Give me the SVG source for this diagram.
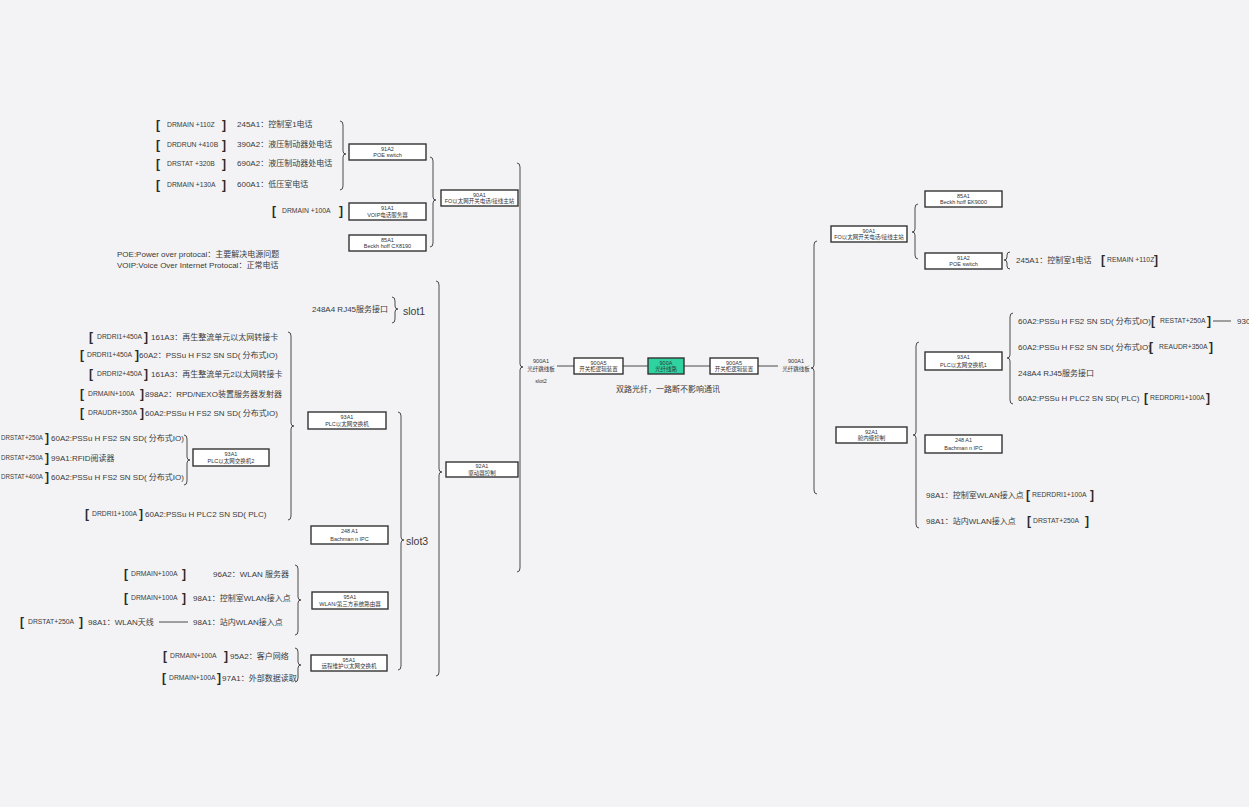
<svg xmlns="http://www.w3.org/2000/svg" width="1249" height="807" viewBox="0 0 1249 807">
<style>
.t{font-family:"Liberation Sans","Noto Sans CJK SC",sans-serif;font-size:8px;fill:#3a3a3a}
.s{font-family:"Liberation Sans","Noto Sans CJK SC",sans-serif;font-size:6.8px;fill:#3a3a3a}
.b{font-family:"Liberation Sans",sans-serif;font-size:12px;font-weight:bold;fill:#2a2a2a}
.sl{font-family:"Liberation Sans",sans-serif;font-size:10.5px;fill:#3a3a3a}
.n{font-family:"Liberation Sans","Noto Sans CJK SC",sans-serif;font-size:5.5px;fill:#333;text-anchor:middle}
.box{fill:#fff;stroke:#333;stroke-width:1.4}
.g{fill:#2ed3a0;stroke:#333;stroke-width:1.4}
.br{fill:none;stroke:#4a4a4a;stroke-width:1}
.ln{stroke:#4a4a4a;stroke-width:1}
</style>
<rect width="1249" height="807" fill="#f3f3f5"/>

<g id="connectors">
<path class="br" d="M340,121 Q343,121 343,125 V151 Q343,154 346,154 Q343,154 343,157 V186 Q343,190 340,190"/>
<path class="br" d="M430,157 Q433,157 433,161 V197 Q433,200 436,200 Q433,200 433,203 V243 Q433,247 430,247"/>
<path class="br" d="M517,163 Q520,163 520,167 V364 Q520,367 523,367 Q520,367 520,370 V568 Q520,572 517,572"/>
<path class="br" d="M392,297 Q395,297 395,301 V306 Q395,309 398,309 Q395,309 395,312 V319 Q395,323 392,323"/>
<path class="br" d="M436,281 Q439,281 439,285 V469 Q439,472 442,472 Q439,472 439,475 V672 Q439,676 436,676"/>
<path class="br" d="M288,332 Q291,332 291,336 V423 Q291,426 294,426 Q291,426 291,429 V516 Q291,520 288,520"/>
<path class="br" d="M184,435 Q187,435 187,439 V457 Q187,460 190,460 Q187,460 187,463 V481 Q187,485 184,485"/>
<path class="br" d="M398,412 Q401,412 401,416 V537 Q401,540 404,540 Q401,540 401,543 V666 Q401,670 398,670"/>
<path class="br" d="M295,565 Q298,565 298,569 V597 Q298,600 301,600 Q298,600 298,603 V631 Q298,635 295,635"/>
<path class="br" d="M295,648 Q298,648 298,652 V662 Q298,665 301,665 Q298,665 298,668 V678 Q298,682 295,682"/>
<path class="br" d="M817,241 Q814,241 814,245 V365 Q814,368 811,368 Q814,368 814,371 V490 Q814,494 817,494"/>
<path class="br" d="M918,204 Q915,204 915,208 V229 Q915,232 912,232 Q915,232 915,235 V255 Q915,259 918,259"/>
<path class="br" d="M1010,252 Q1007,252 1007,255 V257 Q1007,260 1004,260 Q1007,260 1007,263 V266 Q1007,269 1010,269"/>
<path class="br" d="M919,342 Q916,342 916,346 V432 Q916,435 913,435 Q916,435 916,438 V524 Q916,528 919,528"/>
<path class="br" d="M1013,313 Q1010,313 1010,317 V355 Q1010,358 1007,358 Q1010,358 1010,361 V400 Q1010,404 1013,404"/>
<line class="ln" x1="557" y1="366" x2="574" y2="366"/>
<line class="ln" x1="623" y1="366" x2="648" y2="366"/>
<line class="ln" x1="684" y1="366" x2="710" y2="366"/>
<line class="ln" x1="758" y1="366" x2="778" y2="366"/>
<line class="ln" x1="159" y1="622" x2="188" y2="622"/>
<line class="ln" x1="1213" y1="321" x2="1231" y2="321"/>
</g>

<g id="left-phones">
<text class="b" x="156" y="129">[</text><text class="s" x="167" y="127">DRMAIN +110Z</text><text class="b" x="222" y="129">]</text><text class="t" x="237" y="127">245A1：控制室1电话</text>
<text class="b" x="156" y="149">[</text><text class="s" x="167" y="147">DRDRUN +410B</text><text class="b" x="222" y="149">]</text><text class="t" x="237" y="147">390A2：液压制动器处电话</text>
<text class="b" x="156" y="168">[</text><text class="s" x="167" y="166">DRSTAT +320B</text><text class="b" x="222" y="168">]</text><text class="t" x="237" y="166">690A2：液压制动器处电话</text>
<text class="b" x="156" y="189">[</text><text class="s" x="167" y="187">DRMAIN +130A</text><text class="b" x="222" y="189">]</text><text class="t" x="237" y="187">600A1：低压室电话</text>
<text class="b" x="272" y="215">[</text><text class="s" x="282" y="213">DRMAIN +100A</text><text class="b" x="339" y="215">]</text>
<text class="t" x="117" y="257">POE:Power over protocal：主要解决电源问题</text>
<text class="t" x="117" y="268">VOIP:Voice Over Internet Protocal：正常电话</text>
</g>

<g id="n-91A2-left"><rect class="box" x="349" y="144" width="77" height="16"/><text class="n" x="387.5" y="150.5">91A2</text><text class="n" x="387.5" y="157">POE switch</text></g>
<g id="n-91A1"><rect class="box" x="349" y="203" width="77" height="17"/><text class="n" x="387.5" y="209.5">91A1</text><text class="n" x="387.5" y="216.5">VOIP电话服务器</text></g>
<g id="n-85A1-left"><rect class="box" x="349" y="235" width="77" height="16"/><text class="n" x="387.5" y="241.5">85A1</text><text class="n" x="387.5" y="248">Beckh hoff CX8190</text></g>
<g id="n-90A1-left"><rect class="box" x="441" y="190" width="77" height="16"/><text class="n" x="479.5" y="196.5">90A1</text><text class="n" x="479.5" y="203">FO以太网开关电话/接线主站</text></g>

<g id="slot1"><text class="t" x="312" y="312">248A4 RJ45服务接口</text><text class="sl" x="403" y="315">slot1</text></g>

<g id="left-plc-items">
<text class="b" x="89" y="341">[</text><text class="s" x="97" y="339">DRDRI1+450A</text><text class="b" x="144" y="341">]</text><text class="t" x="151" y="340">161A3：再生整流单元以太网转接卡</text>
<text class="b" x="80" y="359">[</text><text class="s" x="87" y="357">DRDRI1+450A</text><text class="b" x="135" y="359">]</text><text class="t" x="139" y="358">60A2：PSSu H FS2 SN SD( 分布式IO)</text>
<text class="b" x="89" y="378">[</text><text class="s" x="97" y="376">DRDRI2+450A</text><text class="b" x="144" y="378">]</text><text class="t" x="151" y="377">161A3：再生整流单元2以太网转接卡</text>
<text class="b" x="80" y="398">[</text><text class="s" x="88" y="396">DRMAIN+100A</text><text class="b" x="140" y="398">]</text><text class="t" x="145" y="397">898A2：RPD/NEXO装置服务器发射器</text>
<text class="b" x="80" y="417">[</text><text class="s" x="88" y="415">DRAUDR+350A</text><text class="b" x="140" y="417">]</text><text class="t" x="145" y="416">60A2:PSSu H FS2 SN SD( 分布式IO)</text>
<text class="s" x="1" y="440" textLength="42" lengthAdjust="spacingAndGlyphs">DRSTAT+250A</text><text class="b" x="45" y="442">]</text><text class="t" x="51" y="441">60A2:PSSu H FS2 SN SD( 分布式IO)</text>
<text class="s" x="1" y="460" textLength="42" lengthAdjust="spacingAndGlyphs">DRSTAT+250A</text><text class="b" x="45" y="462">]</text><text class="t" x="51" y="461">99A1:RFID阅读器</text>
<text class="s" x="1" y="479" textLength="42" lengthAdjust="spacingAndGlyphs">DRSTAT+400A</text><text class="b" x="45" y="481">]</text><text class="t" x="51" y="480">60A2:PSSu H FS2 SN SD( 分布式IO)</text>
<text class="b" x="85" y="518">[</text><text class="s" x="92" y="516">DRDRI1+100A</text><text class="b" x="139" y="518">]</text><text class="t" x="145" y="517">60A2:PSSu H PLC2 SN SD( PLC)</text>
</g>

<g id="n-93A1-2"><rect class="box" x="193" y="449" width="76" height="17"/><text class="n" x="231" y="455.5">93A1</text><text class="n" x="231" y="462.5">PLC以太网交换机2</text></g>
<g id="n-93A1-left"><rect class="box" x="308" y="412" width="78" height="17"/><text class="n" x="347" y="418.5">93A1</text><text class="n" x="347" y="425.5">PLC以太网交换机</text></g>
<g id="n-92A1-left"><rect class="box" x="446" y="462" width="72" height="15"/><text class="n" x="482" y="468">92A1</text><text class="n" x="482" y="474.5">驱动器控制</text></g>
<g id="n-248A1-left"><rect class="box" x="311" y="526" width="77" height="18"/><text class="n" x="349.5" y="533">248 A1</text><text class="n" x="349.5" y="540.5">Bachman n IPC</text></g>
<g id="slot3"><text class="sl" x="406" y="545">slot3</text></g>

<g id="left-wlan-items">
<text class="b" x="124" y="578">[</text><text class="s" x="131" y="576">DRMAIN+100A</text><text class="b" x="182" y="578">]</text><text class="t" x="213" y="577">96A2：WLAN 服务器</text>
<text class="b" x="124" y="602">[</text><text class="s" x="131" y="600">DRMAIN+100A</text><text class="b" x="182" y="602">]</text><text class="t" x="193" y="601">98A1：控制室WLAN接入点</text>
<text class="b" x="20" y="626">[</text><text class="s" x="28" y="624">DRSTAT+250A</text><text class="b" x="79" y="626">]</text><text class="t" x="88" y="625">98A1：WLAN天线</text><text class="t" x="193" y="625">98A1：站内WLAN接入点</text>
<text class="b" x="163" y="660">[</text><text class="s" x="170" y="658">DRMAIN+100A</text><text class="b" x="224" y="660">]</text><text class="t" x="230" y="659">95A2：客户网络</text>
<text class="b" x="162" y="682">[</text><text class="s" x="169" y="680">DRMAIN+100A</text><text class="b" x="217" y="682">]</text><text class="t" x="222" y="681">97A1：外部数据读取</text>
</g>
<g id="n-95A1-wlan"><rect class="box" x="312" y="592" width="76" height="17"/><text class="n" x="350" y="598.5">95A1</text><text class="n" x="350" y="605.5">WLAN/第三方系统路由器</text></g>
<g id="n-95A1-remote"><rect class="box" x="311" y="655" width="76" height="16"/><text class="n" x="349" y="661.5">95A1</text><text class="n" x="349" y="668">远程维护以太网交换机</text></g>

<g id="n-900A1-left"><text class="n" x="541" y="363">900A1</text><text class="n" x="541" y="370.5">光纤跳线板</text><text class="n" x="541" y="383">slot2</text></g>
<g id="n-900A5-left"><rect class="box" x="574" y="358" width="49" height="16"/><text class="n" x="598.5" y="364.5">900A5</text><text class="n" x="598.5" y="371">开关柜逻辑装置</text></g>
<g id="n-900A"><rect class="g" x="648" y="358" width="36" height="16"/><text class="n" x="666" y="364.5">900A</text><text class="n" x="666" y="371">光纤线路</text></g>
<g id="n-900A5-right"><rect class="box" x="710" y="358" width="48" height="16"/><text class="n" x="734" y="364.5">900A5</text><text class="n" x="734" y="371">开关柜逻辑装置</text></g>
<g id="n-900A1-right"><text class="n" x="796" y="363">900A1</text><text class="n" x="796" y="370.5">光纤跳线板</text></g>
<text class="t" x="668" y="392" text-anchor="middle">双路光纤，一路断不影响通讯</text>

<g id="n-90A1-right"><rect class="box" x="831" y="226" width="76" height="16"/><text class="n" x="869" y="232.5">90A1</text><text class="n" x="869" y="239">FO以太网开关电话/接线主站</text></g>
<g id="n-85A1-right"><rect class="box" x="925" y="191" width="77" height="16"/><text class="n" x="963.5" y="197.5">85A1</text><text class="n" x="963.5" y="204">Beckh hoff EK9000</text></g>
<g id="n-91A2-right"><rect class="box" x="925" y="253" width="77" height="16"/><text class="n" x="963.5" y="259.5">91A2</text><text class="n" x="963.5" y="266">POE switch</text></g>
<g id="right-phone"><text class="t" x="1016" y="263">245A1：控制室1电话</text><text class="b" x="1101" y="264">[</text><text class="s" x="1107" y="262">REMAIN +110Z</text><text class="b" x="1154" y="264">]</text></g>

<g id="n-93A1-right"><rect class="box" x="925" y="352" width="77" height="18"/><text class="n" x="963.5" y="359">93A1</text><text class="n" x="963.5" y="366.5">PLC以太网交换机1</text></g>
<g id="n-92A1-right"><rect class="box" x="836" y="427" width="71" height="16"/><text class="n" x="871.5" y="433.5">92A1</text><text class="n" x="871.5" y="440">舱内级控制</text></g>
<g id="n-248A1-right"><rect class="box" x="925" y="435" width="77" height="18"/><text class="n" x="963.5" y="442">248 A1</text><text class="n" x="963.5" y="449.5">Bachman n IPC</text></g>

<g id="right-items">
<text class="t" x="1018" y="324">60A2:PSSu H FS2 SN SD( 分布式IO)</text><text class="b" x="1151" y="325">[</text><text class="s" x="1160" y="323">RESTAT+250A</text><text class="b" x="1207" y="325">]</text><text class="t" x="1237" y="324">930</text>
<text class="t" x="1018" y="350">60A2:PSSu H FS2 SN SD( 分布式IO)</text><text class="b" x="1149" y="351">[</text><text class="s" x="1159" y="349">REAUDR+350A</text><text class="b" x="1209" y="351">]</text>
<text class="t" x="1018" y="376">248A4 RJ45服务接口</text>
<text class="t" x="1018" y="401">60A2:PSSu H PLC2 SN SD( PLC)</text><text class="b" x="1144" y="402">[</text><text class="s" x="1150" y="400">REDRDRI1+100A</text><text class="b" x="1206" y="402">]</text>
<text class="t" x="926" y="498">98A1：控制室WLAN接入点</text><text class="b" x="1026" y="499">[</text><text class="s" x="1032" y="497">REDRDRI1+100A</text><text class="b" x="1090" y="499">]</text>
<text class="t" x="926" y="524">98A1：站内WLAN接入点</text><text class="b" x="1027" y="525">[</text><text class="s" x="1033" y="523">DRSTAT+250A</text><text class="b" x="1085" y="525">]</text>
</g>
</svg>
